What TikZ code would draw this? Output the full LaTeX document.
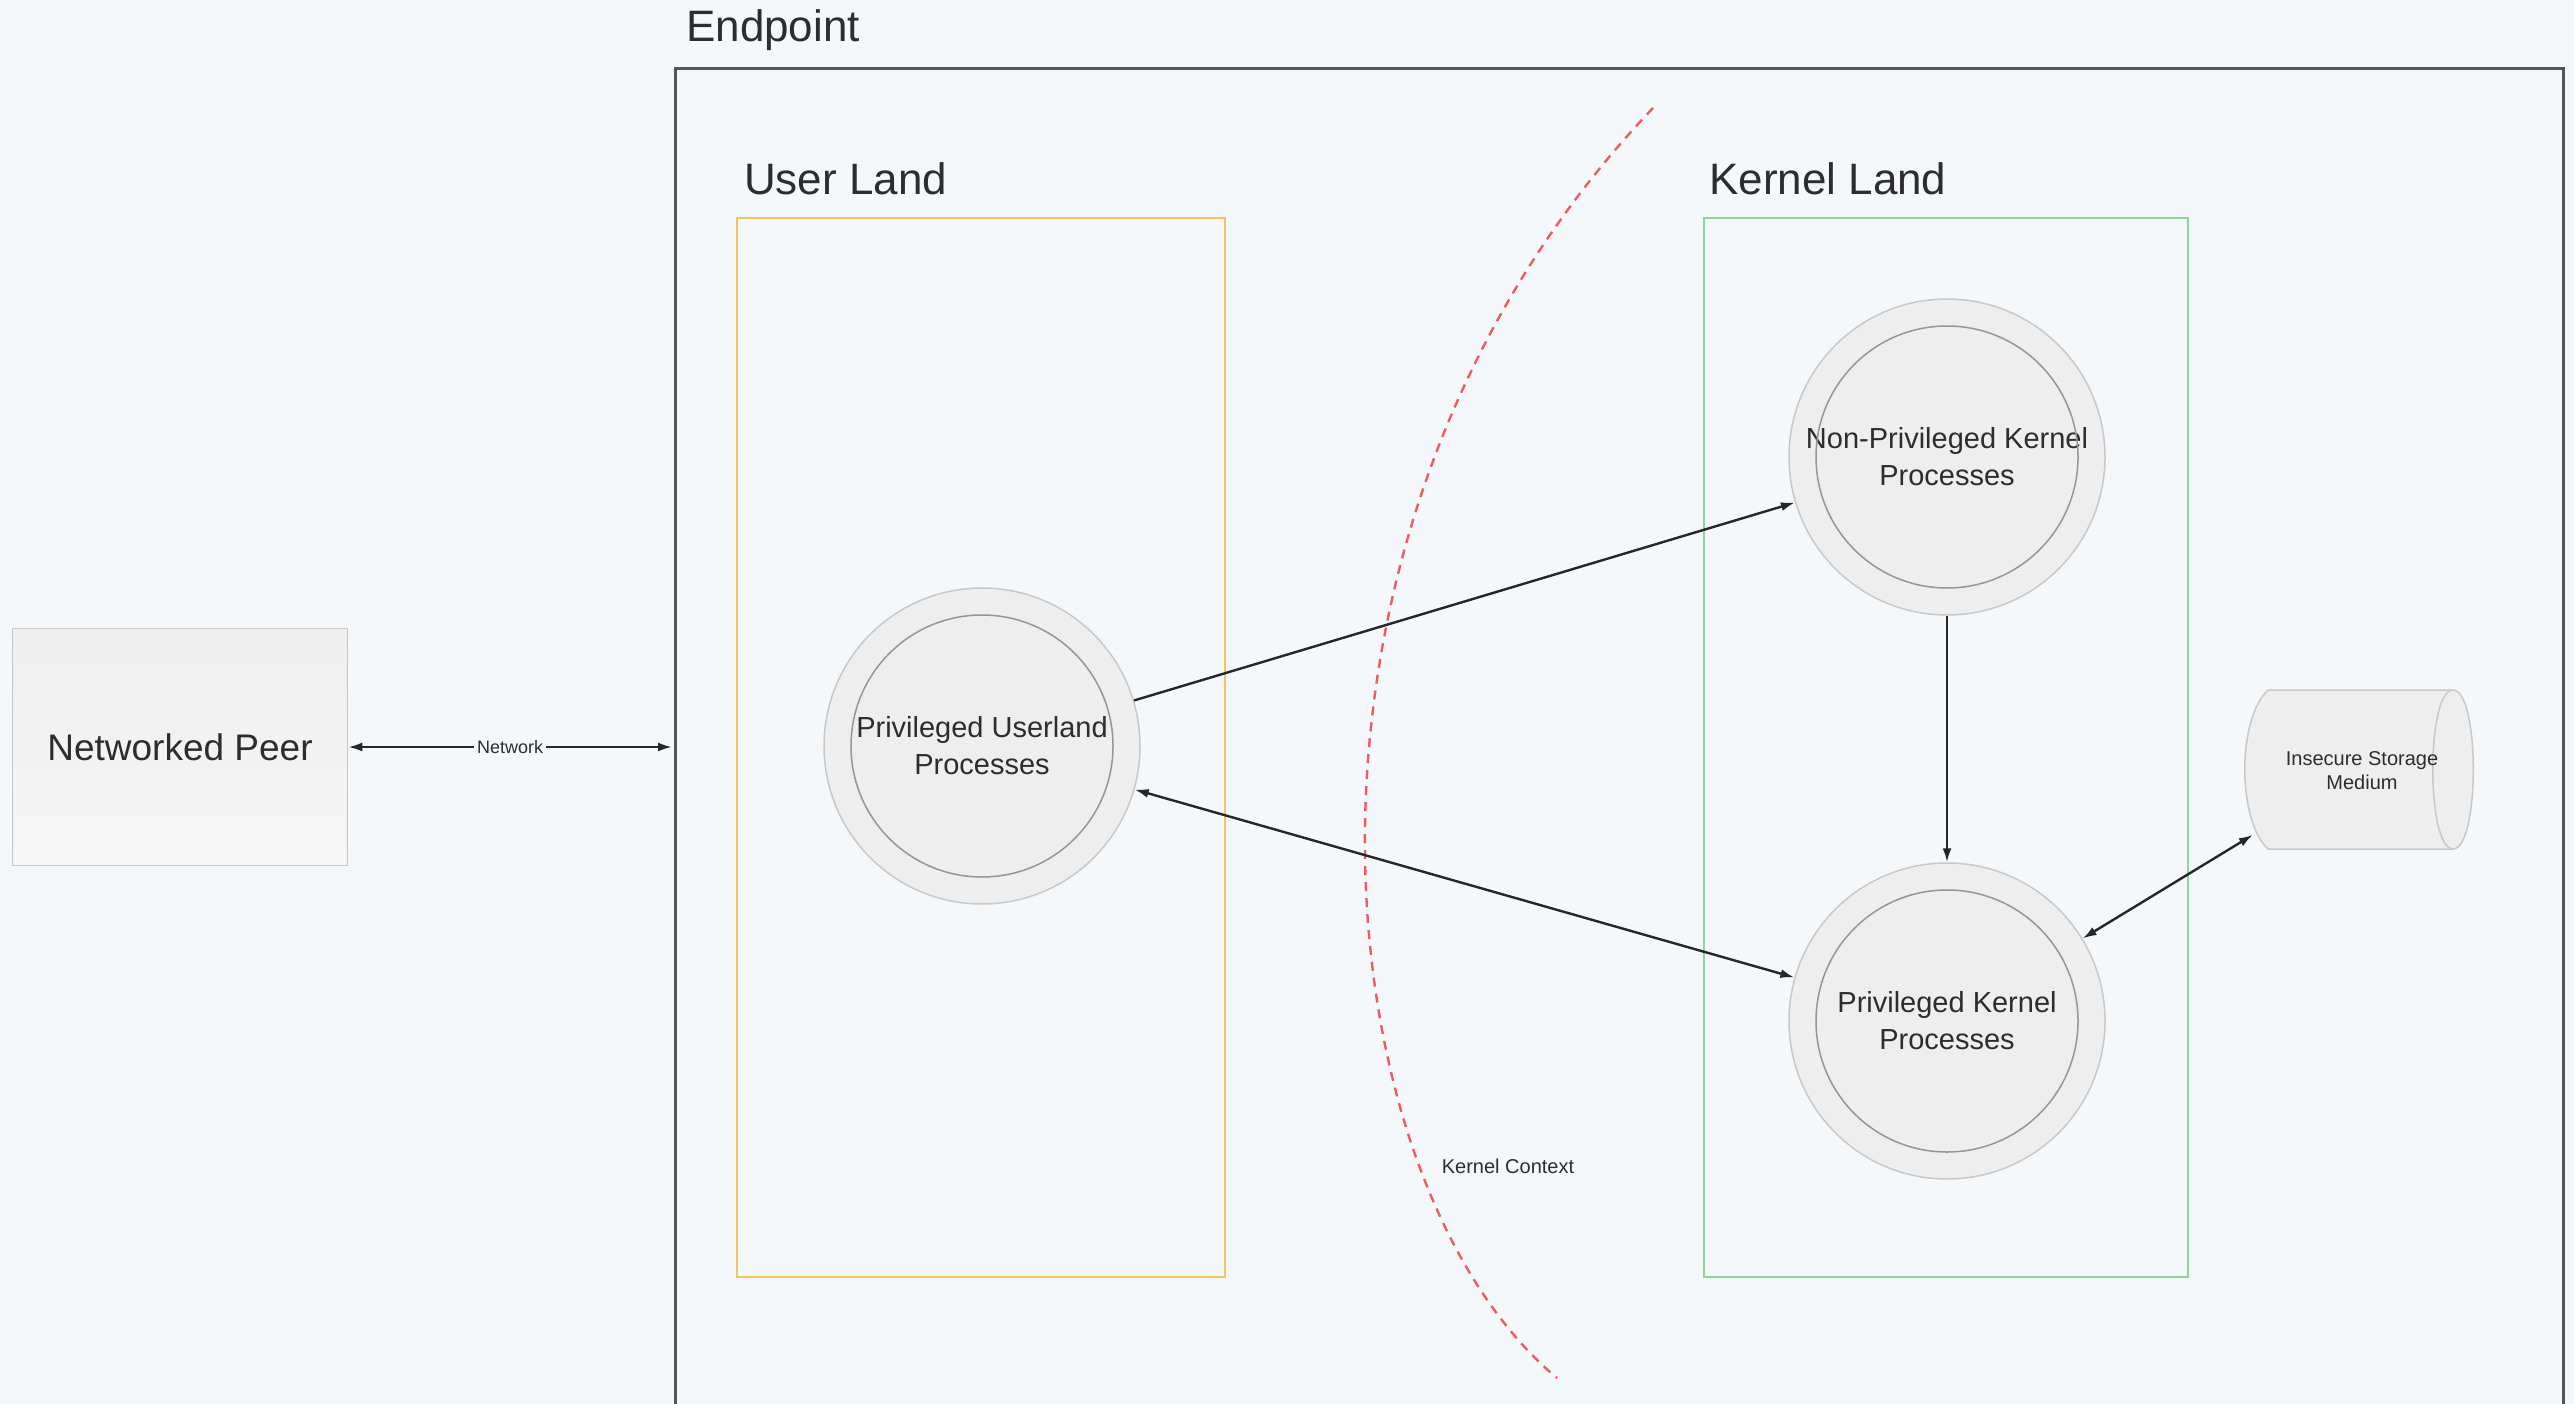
\documentclass[tikz,border=0pt]{standalone}
\usepackage{fontspec}
\setmainfont{Liberation Sans}
\usetikzlibrary{arrows.meta}
\definecolor{paper}{RGB}{245,248,251}
\definecolor{ink}{RGB}{45,45,45}
\definecolor{frame}{RGB}{85,85,85}
\definecolor{userbox}{RGB}{244,196,96}
\definecolor{kernbox}{RGB}{140,214,150}
\definecolor{ringout}{RGB}{200,200,200}
\definecolor{ringin}{RGB}{150,150,150}
\definecolor{bubble}{RGB}{238,238,238}
\definecolor{ctxred}{RGB}{236,92,98}
\tikzset{
  title/.style={anchor=west, text=ink, font=\fontsize{44}{50}\selectfont, inner sep=0},
  areabox/.style={line width=2.2pt},
  proc/.style={circle, minimum size=316, inner sep=0, draw=ringout, line width=1.5pt,
    fill=bubble, align=center, text=ink, font=\fontsize{29}{37}\selectfont},
  ring/.style={draw=ringin, line width=1.5pt},
  link/.style={line width=2.4pt, draw=black!85,
    arrows={-Latex[length=14pt,width=9pt]}},
  dlink/.style={line width=2.4pt, draw=black!85,
    arrows={Latex[length=14pt,width=9pt]-Latex[length=14pt,width=9pt]}},
  small/.style={text=ink, font=\fontsize{20}{24}\selectfont, align=center, inner sep=2pt},
}
\begin{document}
\begin{tikzpicture}[x=1pt,y=-1pt]
% canvas
\fill[paper] (0,0) rectangle (2574,1404);
\useasboundingbox (0,0) rectangle (2574,1404);

% endpoint frame (open at the bottom edge)
\draw[frame, line width=3pt] (675,1404) -- (675,69) -- (2563,69) -- (2563,1404);
\node[title] (eplabel) at (686,30) {Endpoint};
\coordinate (epl) at (672,747);

% user land and kernel land areas
\draw[areabox, userbox] (737,218) rectangle (1225,1277);
\node[title] (ullabel) at (744,179) {User Land};
\draw[areabox, kernbox] (1704,218) rectangle (2188,1277);
\node[title] (kllabel) at (1709,179) {Kernel Land};

% networked peer
\node[draw=black!22, line width=1.5pt, top color=bubble, bottom color=bubble!45!white,
      minimum width=335, minimum height=237, inner sep=0, text=ink,
      font=\fontsize{37}{44}\selectfont] (peer) at (180,747) {Networked Peer};

% kernel context boundary
\draw[ctxred, line width=2.4pt, dash pattern=on 9pt off 7pt]
  (1653,108) .. controls (1250,530) and (1320,1180) .. (1557,1378);
\node[small] (ctx) at (1508,1166) {Kernel Context};

% process bubbles
\node[proc] (pu) at (982,746) {Privileged Userland\\Processes};
\draw[ring] (pu.center) circle[radius=131];
\node[proc] (npk) at (1947,457) {Non-Privileged Kernel\\Processes};
\draw[ring] (npk.center) circle[radius=131];
\node[proc] (pk) at (1947,1021) {Privileged Kernel\\Processes};
\draw[ring] (pk.center) circle[radius=131];

% insecure storage cylinder
\node[minimum width=214, minimum height=159, inner sep=0] (st) at (2360,770) {};
\filldraw[draw=ringout, line width=1.5pt, fill=bubble]
  (2268,690) -- (2453,690) .. controls (2480,690) and (2480,849) .. (2453,849)
  -- (2268,849) .. controls (2237,820) and (2237,719) .. (2268,690) -- cycle;
\draw[draw=ringout, line width=1.5pt]
  (2453,690) .. controls (2426,690) and (2426,849) .. (2453,849);
\node[small] (stlabel) at (2362,771) {Insecure Storage\\Medium};

% connectors
\draw[dlink] (peer) -- node[small, fill=paper, inner sep=3pt, font=\fontsize{18}{22}\selectfont] {Network} (epl);
\draw[link] (pu) -- (npk);
\draw[dlink] (pu) -- (pk);
\draw[link] (npk) -- (pk);
\draw[dlink] (pk) -- (st);
\end{tikzpicture}
\end{document}
